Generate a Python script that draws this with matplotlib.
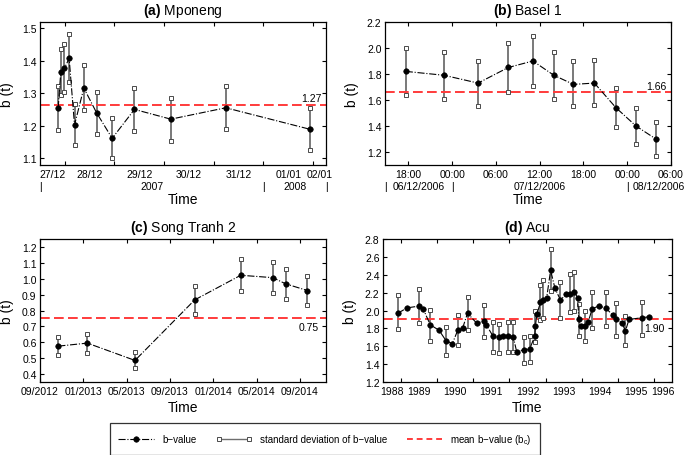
import numpy as np
import matplotlib
matplotlib.use("Agg")
import matplotlib.pyplot as plt
from matplotlib.lines import Line2D
from matplotlib.legend_handler import HandlerLine2D
from matplotlib.ticker import FormatStrFormatter, NullFormatter

plt.rcParams['font.family'] = ['Liberation Sans', 'DejaVu Sans']
plt.rcParams['mathtext.fontset'] = 'custom'
plt.rcParams['mathtext.rm'] = 'Liberation Sans'
plt.rcParams['mathtext.bf'] = 'Liberation Sans:bold'
plt.rcParams['mathtext.it'] = 'Liberation Sans:italic'

# ---------------- (a) Mponeng : x = days since 27/12/2007 00:00 ----------------
a_t = [0.866, 0.919, 0.993, 1.087, 1.195, 1.383, 1.638, 1.953, 2.403, 3.135, 4.242, 5.934]
a_b = [1.255, 1.367, 1.378, 1.408, 1.203, 1.317, 1.241, 1.162, 1.251, 1.221, 1.256, 1.190]
a_hi = [1.322, 1.438, 1.451, 1.483, 1.268, 1.387, 1.305, 1.224, 1.317, 1.285, 1.324, 1.254]
a_lo = [1.188, 1.296, 1.305, 1.334, 1.141, 1.249, 1.174, 1.100, 1.184, 1.155, 1.190, 1.127]
a_bc = 1.266
a_days = [1, 2, 3, 4, 5, 6]          # 00:00 of 28/12 ... 02/01
a_day_labels = ['27/12', '28/12', '29/12', '30/12', '31/12', '01/01', '02/01']
a_new_year = 5
a_years = ['2007', '2008']

# ---------------- (b) Basel 1 : x = hours since 06/12/2006 00:00 ----------------
b_t = [17.65, 22.9, 27.56, 31.7, 35.08, 37.95, 40.64, 43.5, 46.47, 49.2, 51.93]
b_b = [1.82, 1.79, 1.73, 1.85, 1.90, 1.79, 1.72, 1.73, 1.54, 1.40, 1.30]
b_hi = [2.00, 1.97, 1.90, 2.04, 2.09, 1.97, 1.90, 1.91, 1.69, 1.54, 1.43]
b_lo = [1.64, 1.61, 1.55, 1.66, 1.71, 1.61, 1.55, 1.56, 1.39, 1.26, 1.17]
b_bc = 1.66
b_hours = [18, 24, 30, 36, 42, 48, 54]
b_hour_labels = ['18:00', '00:00', '06:00', '12:00', '18:00', '00:00', '06:00']
b_midnights = [24, 48]
b_dates = ['06/12/2006', '07/12/2006', '08/12/2006']

# ---------------- (c) Song Tranh 2 : x = months since 09/2012 ----------------
c_t = [1.69, 4.37, 8.77, 14.28, 18.53, 21.49, 22.68, 24.68]
c_b = [0.576, 0.595, 0.486, 0.867, 1.022, 1.007, 0.968, 0.926]
c_hi = [0.635, 0.653, 0.536, 0.955, 1.123, 1.108, 1.064, 1.016]
c_lo = [0.519, 0.534, 0.440, 0.781, 0.921, 0.909, 0.871, 0.836]
c_bc = 0.75
c_months = [0, 4, 8, 12, 16, 20, 24]
c_month_labels = ['09/2012', '01/2013', '05/2013', '09/2013', '01/2014', '05/2014', '09/2014']

# ---------------- (d) Acu : x = decimal year ----------------
d_t = [1988.91, 1989.17, 1989.50, 1989.61, 1989.81, 1990.05, 1990.25, 1990.42, 1990.57, 1990.71,
       1990.84, 1991.09, 1991.29, 1991.36, 1991.55, 1991.70, 1991.82, 1991.96, 1992.11, 1992.20,
       1992.40, 1992.56, 1992.70, 1992.72, 1992.76, 1992.86, 1992.94, 1993.03, 1993.14, 1993.26,
       1993.41, 1993.57, 1993.69, 1993.80, 1993.89, 1993.92, 1993.97, 1994.08, 1994.18, 1994.29,
       1994.47, 1994.66, 1994.86, 1994.96, 1995.12, 1995.21, 1995.31, 1995.67, 1995.87]
d_b = [1.97, 2.03, 2.05, 2.02, 1.84, 1.78, 1.66, 1.63, 1.78, 1.81,
       1.97, 1.86, 1.88, 1.84, 1.71, 1.70, 1.71, 1.71, 1.70, 1.54,
       1.56, 1.57, 1.71, 1.83, 1.96, 2.09, 2.12, 2.14, 2.45, 2.25,
       2.12, 2.18, 2.19, 2.21, 2.14, 1.90, 1.83, 1.83, 1.87, 2.02,
       2.05, 2.03, 1.95, 1.90, 1.86, 1.77, 1.90, 1.92, 1.93]
N = None
d_hi = [2.17, N, 2.24, N, 2.01, N, 1.82, N, 1.95, N,
        2.15, N, 2.06, N, 1.87, 1.85, N, 1.87, 1.87, N,
        1.70, 1.71, N, 2.00, N, 2.29, 2.34, N, 2.69, N,
        2.32, N, 2.41, 2.43, N, 2.07, N, 2.00, N, 2.21,
        N, 2.21, N, 2.08, N, 1.94, N, 2.10, N]
d_lo = [1.79, N, 1.86, N, 1.66, N, 1.50, N, 1.61, N,
        1.78, N, 1.70, N, 1.54, 1.52, N, 1.54, 1.54, N,
        1.41, 1.42, N, 1.65, N, 1.89, 1.92, N, 2.22, N,
        1.92, N, 1.98, 1.99, N, 1.71, N, 1.66, N, 1.81,
        N, 1.83, N, 1.72, N, 1.61, N, 1.73, N]
d_bc = 1.90
d_years = list(range(1989, 1997))
d_year_labels = [str(y) for y in range(1988, 1997)]

RED = '#ff3b3b'
BAR = '#6e6e6e'
SQ = '#4a4a4a'
TICK_FS = 7.5


def mid_labels(edges, lo, hi):
    bounds = [lo] + list(edges) + [hi]
    return [(bounds[i] + bounds[i + 1]) / 2 for i in range(len(bounds) - 1)]


def draw_panel(ax, t, b, hi, lo, bc, above):
    t = np.array(t, dtype=float)
    hi = np.array([np.nan if v is None else v for v in hi], dtype=float)
    lo = np.array([np.nan if v is None else v for v in lo], dtype=float)
    ok = ~np.isnan(hi)
    ax.vlines(t[ok], lo[ok], hi[ok], color=BAR, lw=1.3, zorder=2)
    for arr in (hi, lo):
        ax.plot(t[ok], arr[ok], 's', ms=3.2, mfc='white', mec=SQ, mew=0.7, zorder=3)
    ax.axhline(bc, color=RED, lw=1.4, ls=(0, (5, 2.2)), zorder=2.5)
    ax.plot(t, b, color='black', ls='-.', lw=0.8, marker='o', ms=4.0, mew=0.4, zorder=4)
    tr = ax.get_yaxis_transform()
    if above:
        ax.annotate('%.2f' % bc, xy=(0.985, bc), xycoords=tr, xytext=(0, 1),
                    textcoords='offset points', ha='right', va='bottom', fontsize=7.5)
    else:
        ax.annotate('%.2f' % bc, xy=(0.975, bc), xycoords=tr, xytext=(0, -2.5),
                    textcoords='offset points', ha='right', va='top', fontsize=7.5)
    ax.tick_params(which='both', direction='in', top=True, right=True, length=3, width=0.8,
                   labelsize=TICK_FS, pad=3)
    ax.tick_params(axis='y', pad=2.5)
    for s in ax.spines.values():
        s.set_linewidth(0.9)
    ax.set_ylabel('b (t)', fontsize=10)
    ax.yaxis.set_label_coords(-0.09, 0.5)
    ax.yaxis.set_major_formatter(FormatStrFormatter('%.1f'))


def title(ax, tag, name):
    ax.set_title(r'$\mathbf{(' + tag + r')}$ ' + name, fontsize=10, pad=6)


fig = plt.figure(figsize=(6.85, 4.56), dpi=100)
W = 0.4175
H = 0.3136
ax_a = fig.add_axes([0.0584, 0.636, W, H])
ax_b = fig.add_axes([0.562, 0.636, W, H])
ax_c = fig.add_axes([0.0584, 0.160, W, H])
ax_d = fig.add_axes([0.5591, 0.160, 0.4219, H])

# (a)
draw_panel(ax_a, a_t, a_b, a_hi, a_lo, a_bc, True)
ax_a.set_xlim(0.5, 6.26)
ax_a.set_ylim(1.08, 1.52)
ax_a.set_yticks([1.1, 1.2, 1.3, 1.4, 1.5])
ax_a.set_xticks(a_days)
ax_a.xaxis.set_major_formatter(NullFormatter())
ax_a.set_xticks(mid_labels(a_days, 0.5, 6.26), labels=a_day_labels, minor=True)
ax_a.tick_params(axis='x', which='minor', length=0, pad=3, labelsize=TICK_FS)
xt = ax_a.get_xaxis_transform()
for x in [0.5, a_new_year, 6.26]:
    ax_a.text(x, -0.15, '|', transform=xt, ha='center', va='center', fontsize=TICK_FS)
for x, s in zip(mid_labels([a_new_year], 0.5, 6.26), a_years):
    ax_a.text(x, -0.15, s, transform=xt, ha='center', va='center', fontsize=TICK_FS)
ax_a.set_xlabel('Time', fontsize=10)
ax_a.xaxis.set_label_coords(0.5, -0.19)
title(ax_a, 'a', 'Mponeng')

# (b)
draw_panel(ax_b, b_t, b_b, b_hi, b_lo, b_bc, True)
ax_b.set_xlim(14.8, 54)
ax_b.set_ylim(1.1, 2.2)
ax_b.set_yticks(np.arange(1.2, 2.21, 0.2))
ax_b.set_xticks(b_hours, labels=b_hour_labels)
xt = ax_b.get_xaxis_transform()
for x in [14.8] + b_midnights:
    ax_b.text(x, -0.15, '|', transform=xt, ha='center', va='center', fontsize=TICK_FS)
centers = mid_labels(b_midnights, 14.8, 54)
ax_b.text(centers[0], -0.15, b_dates[0], transform=xt, ha='center', va='center', fontsize=TICK_FS)
ax_b.text(centers[1], -0.15, b_dates[1], transform=xt, ha='center', va='center', fontsize=TICK_FS)
ax_b.text(b_midnights[1] + 0.8, -0.15, b_dates[2], transform=xt, ha='left', va='center',
          fontsize=TICK_FS)
ax_b.set_xlabel('Time', fontsize=10)
ax_b.xaxis.set_label_coords(0.5, -0.19)
title(ax_b, 'b', 'Basel 1')

# (c)
draw_panel(ax_c, c_t, c_b, c_hi, c_lo, c_bc, False)
ax_c.set_xlim(0, 26.4)
ax_c.set_ylim(0.35, 1.25)
ax_c.set_yticks(np.arange(0.4, 1.21, 0.1))
ax_c.set_xticks(c_months, labels=c_month_labels)
ax_c.set_xlabel('Time', fontsize=10)
ax_c.xaxis.set_label_coords(0.5, -0.125)
title(ax_c, 'c', 'Song Tranh 2')

# (d)
draw_panel(ax_d, d_t, d_b, d_hi, d_lo, d_bc, False)
ax_d.set_xlim(1988.5, 1996.5)
ax_d.set_ylim(1.2, 2.8)
ax_d.set_yticks(np.arange(1.2, 2.81, 0.2))
ax_d.set_xticks(d_years)
ax_d.xaxis.set_major_formatter(NullFormatter())
ax_d.set_xticks(mid_labels(d_years, 1988.5, 1996.5), labels=d_year_labels, minor=True)
ax_d.tick_params(axis='x', which='minor', length=0, pad=3, labelsize=TICK_FS)
ax_d.set_xlabel('Time', fontsize=10)
ax_d.xaxis.set_label_coords(0.5, -0.125)
title(ax_d, 'd', 'Acu')

# legend
h1 = Line2D([], [], color='black', ls='-.', lw=0.8, marker='o', ms=4.0, mew=0.4)
h2 = Line2D([], [], color=BAR, lw=1.0, marker='s', ms=3.2, mfc='white', mec=SQ, mew=0.7)
h3 = Line2D([], [], color=RED, lw=1.4, ls=(0, (3, 2)))
leg = fig.legend([h1, h2, h3],
                 ['b\u2212value', 'standard deviation of b\u2212value',
                  r'mean b$\mathrm{-}$value (b$_\mathrm{c}$)'],
                 handler_map={h2: HandlerLine2D(numpoints=2)},
                 loc='center', bbox_to_anchor=(0.153, 0.035, 0.643, 0.0),
                 mode='expand', ncol=3, fontsize=7, handlelength=3.7,
                 handletextpad=0.8, borderpad=0.9, fancybox=False, frameon=True)
leg.get_frame().set_edgecolor('black')
leg.get_frame().set_linewidth(0.9)

fig.savefig('out.png', dpi=100)
